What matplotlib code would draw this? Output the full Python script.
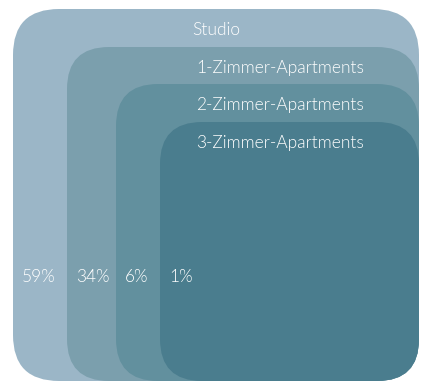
import matplotlib
matplotlib.use('Agg')
from matplotlib import pyplot as plt
from matplotlib.patches import FancyBboxPatch

# data
categories = ['Studio', '1-Zimmer-Apartments', '2-Zimmer-Apartments', '3-Zimmer-Apartments']
shares = [59, 34, 6, 1]
colors = ['#9bb6c7', '#7b9fad', '#62909e', '#4a7d8e']

# layout (pixels)
lefts = [13, 67, 116, 160]
tops = [9, 47, 84, 122]
radii = [46, 42, 42, 42]
right = 419
bottom = 381

fig = plt.figure(figsize=(4.27, 3.81), dpi=100)
ax = fig.add_axes([0, 0, 1, 1])
ax.set_xlim(0, 427)
ax.set_ylim(381, 0)
ax.axis('off')

for i in range(len(categories)):
	w = right - lefts[i]
	h = bottom - tops[i]
	box = FancyBboxPatch((lefts[i], tops[i]), w, h,
		boxstyle='round,pad=0,rounding_size=%d' % radii[i],
		facecolor=colors[i], edgecolor='none')
	ax.add_patch(box)
	ax.text(280 if i > 0 else 216, tops[i] + 21, categories[i], color='white',
		fontsize=12.5, family='Lato', fontweight=300, ha='center', va='center')
	ax.text(lefts[i] + 9, 277, str(shares[i]) + '%', color='white',
		fontsize=12.5, family='Lato', fontweight=300, ha='left', va='center')

fig.savefig('out.png', dpi=100)
